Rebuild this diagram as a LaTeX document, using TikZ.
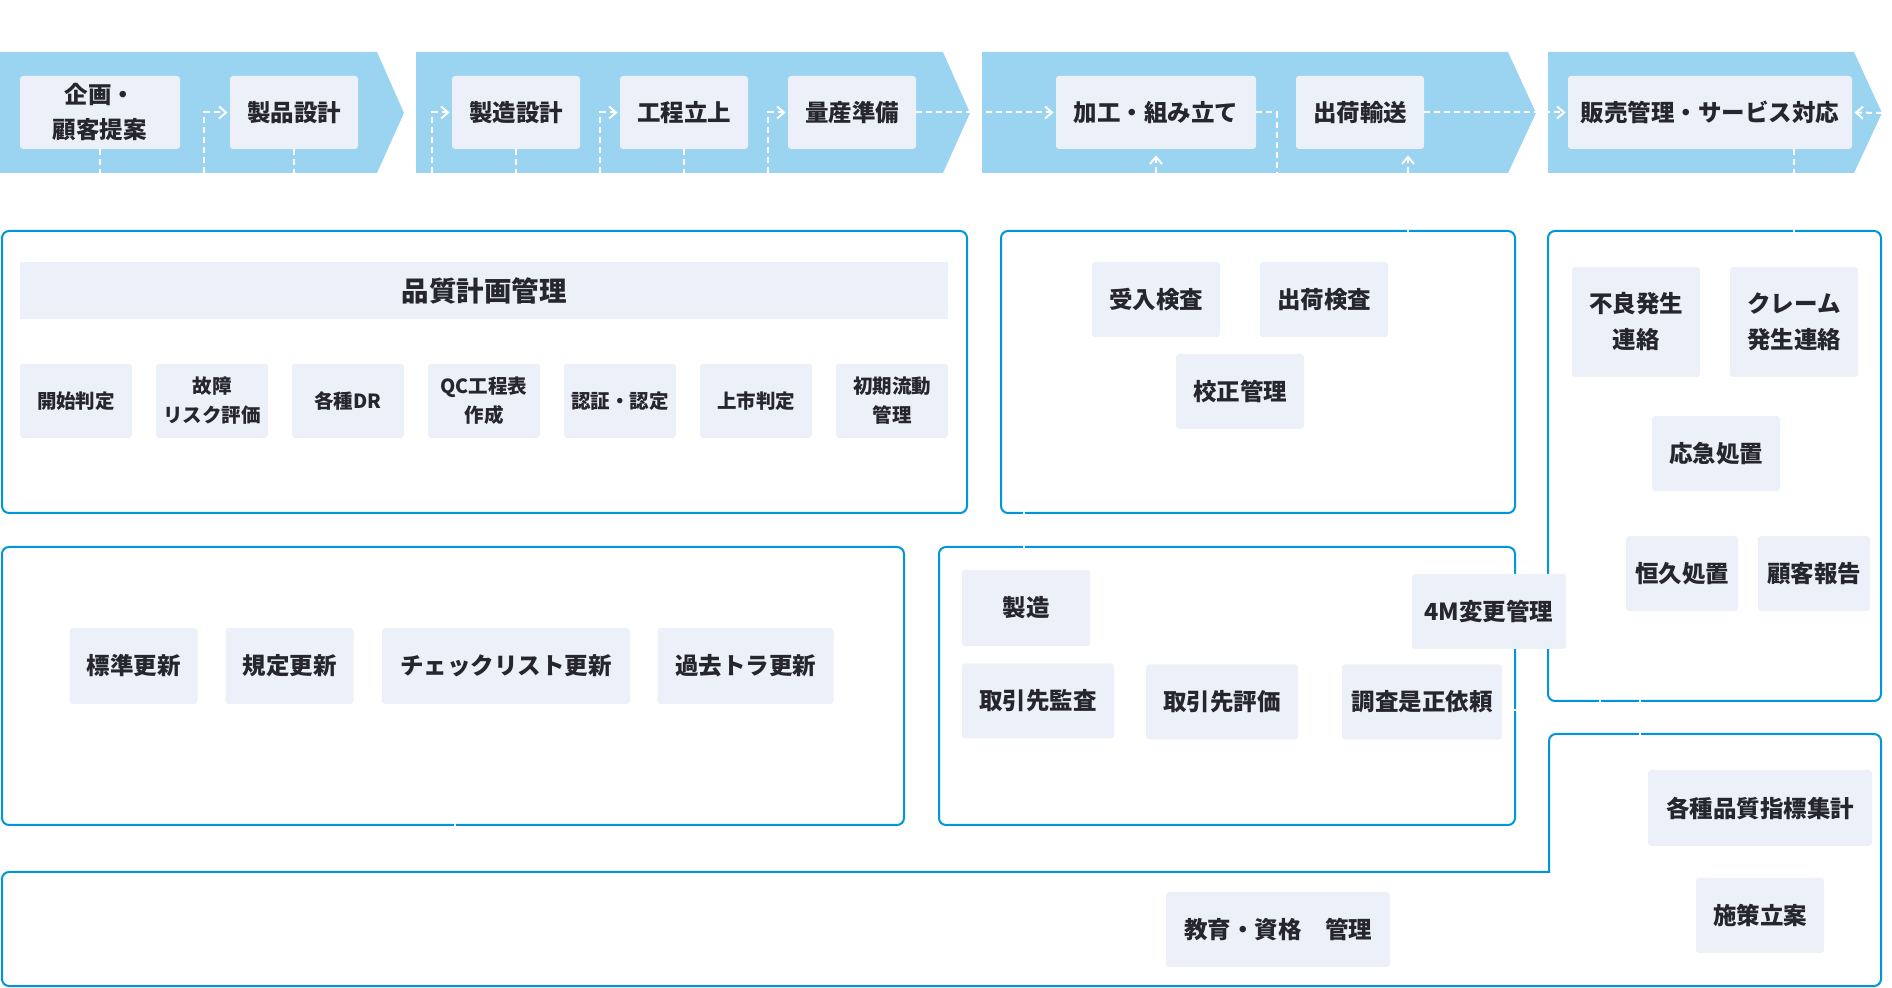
\documentclass[tikz,border=0pt]{standalone}
\usepackage{fontspec}
\setmainfont{Noto Sans CJK JP}
\usetikzlibrary{arrows.meta}
\definecolor{chev}{RGB}{155,212,240}
\definecolor{boxf}{RGB}{236,240,249}
\definecolor{frm}{RGB}{0,150,220}
\definecolor{txt}{RGB}{38,38,46}
\begin{document}
\begin{tikzpicture}[x=0.5pt,y=-0.5pt,
 chevron/.style={fill=chev,draw=none},
 frame/.style={draw=frm,line width=1pt,rounded corners=3.5pt},
 bx/.style 2 args={fill=boxf,rounded corners=1.5pt,inner sep=0pt,minimum width=#1*0.5pt,minimum height=#2*0.5pt,text=txt,align=center,font=\bfseries\fontsize{11.75}{17.5}\selectfont},
 small/.style={font=\bfseries\fontsize{9.75}{14.5}\selectfont},
 tall/.style={font=\bfseries\fontsize{11.75}{18}\selectfont},
 wd/.style={draw=white,line width=1pt,dash pattern=on 3pt off 2pt},
 wda/.style={wd,-{Straight Barb[length=3.5pt,width=6pt]},shorten >=1pt},
 gap/.style={fill=white,draw=none},
]
\useasboundingbox (0,0) rectangle (1892,988);
% chevrons
\fill[chevron] (0,52) -- (377,52) -- (404,113) -- (377,173) -- (0,173) -- cycle;
\fill[chevron] (416,52) -- (943,52) -- (970,113) -- (943,173) -- (416,173) -- cycle;
\fill[chevron] (982,52) -- (1508,52) -- (1536,113) -- (1508,173) -- (982,173) -- cycle;
\fill[chevron] (1548,52) -- (1854,52) -- (1882,113) -- (1854,173) -- (1548,173) -- cycle;
% frames
\draw[frame] (2,231) rectangle (967,513);
\draw[frame] (1001,231) rectangle (1515,513);
\draw[frame] (1548,231) rectangle (1881,701);
\draw[frame] (939,547) rectangle (1515,825);
\draw[frame] (2,547) rectangle (904,825);
\draw[frame] (1549,800) -- (1549,734) -- (1881,734) -- (1881,986) -- (2,986) -- (2,872) [sharp corners] -- (1549,872) -- cycle;
% frame gaps
\fill[gap] (1407,227) rectangle (1409,235);
\fill[gap] (1023,509) rectangle (1025,517);
\fill[gap] (1023,543) rectangle (1025,551);
\fill[gap] (1511,709) rectangle (1519,711);
\fill[gap] (1793,227) rectangle (1795,235);
\fill[gap] (1599,697) rectangle (1601,705);
\fill[gap] (1639,697) rectangle (1641,705);
\fill[gap] (1639,730) rectangle (1641,738);
\fill[gap] (454,821) rectangle (456,829);
% band coordinates
\coordinate (bb) at (0,173);
\coordinate (e1) at (204,173);
\coordinate (e2) at (432,173);
\coordinate (e3) at (600,173);
\coordinate (e4) at (768,173);
\coordinate (e5) at (1277,173);
\coordinate (e6) at (1408,173);
\coordinate (e7) at (1882,113);
\coordinate (e8) at (1794,173);
% top band boxes
\node[bx={160}{73}] (kikaku) at (100,112.5) {企画・\\顧客提案};
\node[bx={128}{73}] (seihin) at (294,112.5) {製品設計};
\node[bx={128}{73}] (seizo) at (516,112.5) {製造設計};
\node[bx={128}{73}] (kotei) at (684,112.5) {工程立上};
\node[bx={128}{73}] (ryosan) at (852,112.5) {量産準備};
\node[bx={200}{73}] (kako) at (1156,112.5) {加工・組み立て};
\node[bx={128}{73}] (shukka) at (1360,112.5) {出荷輸送};
\node[bx={284}{73}] (hanbai) at (1710,112.5) {販売管理・サービス対応};
% band connectors
\draw[wd] (kikaku.south) -- (kikaku.south |- bb);
\draw[wda] (e1) |- (seihin.west);
\draw[wd] (seihin.south) -- (seihin.south |- bb);
\draw[wda] (e2) |- (seizo.west);
\draw[wd] (seizo.south) -- (seizo.south |- bb);
\draw[wda] (e3) |- (kotei.west);
\draw[wd] (kotei.south) -- (kotei.south |- bb);
\draw[wda] (e4) |- (ryosan.west);
\draw[wda] (ryosan.east) -- (kako.west);
\draw[wd] (kako.east) -| (e5);
\draw[wda,shorten >=3pt] (kako.south |- bb) -- (kako.south);
\draw[wda,shorten >=3pt] (e6) -- (e6 |- shukka.south);
\draw[wda] (shukka.east) -- (hanbai.west);
\draw[wda] (e7) -- (hanbai.east);
\draw[wd] (e8 |- hanbai.south) -- (e8);
% quality plan
\node[bx={928}{57},rounded corners=0pt,font=\bfseries\fontsize{13.75}{16}\selectfont] (plan) at (484,290.5) {品質計画管理};
\node[bx={112}{74},small] (p1) at (76,401) {開始判定};
\node[bx={112}{74},small] (p2) at (212,401) {故障\\リスク評価};
\node[bx={112}{74},small] (p3) at (348,401) {各種DR};
\node[bx={112}{74},small] (p4) at (484,401) {QC工程表\\作成};
\node[bx={112}{74},small] (p5) at (620,401) {認証・認定};
\node[bx={112}{74},small] (p6) at (756,401) {上市判定};
\node[bx={112}{74},small] (p7) at (892,401) {初期流動\\管理};
% inspection
\node[bx={128}{75}] (ukeire) at (1156,299.5) {受入検査};
\node[bx={128}{75}] (shukken) at (1324,299.5) {出荷検査};
\node[bx={128}{75}] (kosei) at (1240,391.5) {校正管理};
% complaints
\node[bx={128}{110},tall] (furyo) at (1636,322) {不良発生\\連絡};
\node[bx={128}{110},tall] (claim) at (1794,322) {クレーム\\発生連絡};
\node[bx={128}{75}] (okyu) at (1716,453.5) {応急処置};
\node[bx={112}{75}] (kokyu) at (1682,573.5) {恒久処置};
\node[bx={112}{75}] (hokoku) at (1814,573.5) {顧客報告};
% supplier
\node[bx={128}{76}] (mfg) at (1026,608) {製造};
\node[bx={152}{75}] (kansa) at (1038,701) {取引先監査};
\node[bx={152}{75}] (hyoka) at (1222,702) {取引先評価};
\node[bx={160}{75}] (chosa) at (1422,702) {調査是正依頼};
\node[bx={154}{75}] (fourm) at (1489,611.5) {4M変更管理};
% standards
\node[bx={128}{76}] (hyojun) at (133.5,666) {標準更新};
\node[bx={128}{76}] (kitei) at (289.5,666) {規定更新};
\node[bx={248}{76}] (check) at (506,666) {チェックリスト更新};
\node[bx={176}{76}] (kako2) at (745.5,666) {過去トラ更新};
% bottom
\node[bx={224}{75}] (kyoiku) at (1278,929.5) {教育・資格　管理};
\node[bx={224}{76}] (shihyo) at (1760,808) {各種品質指標集計};
\node[bx={128}{75}] (shisaku) at (1760,915.5) {施策立案};
\end{tikzpicture}
\end{document}
